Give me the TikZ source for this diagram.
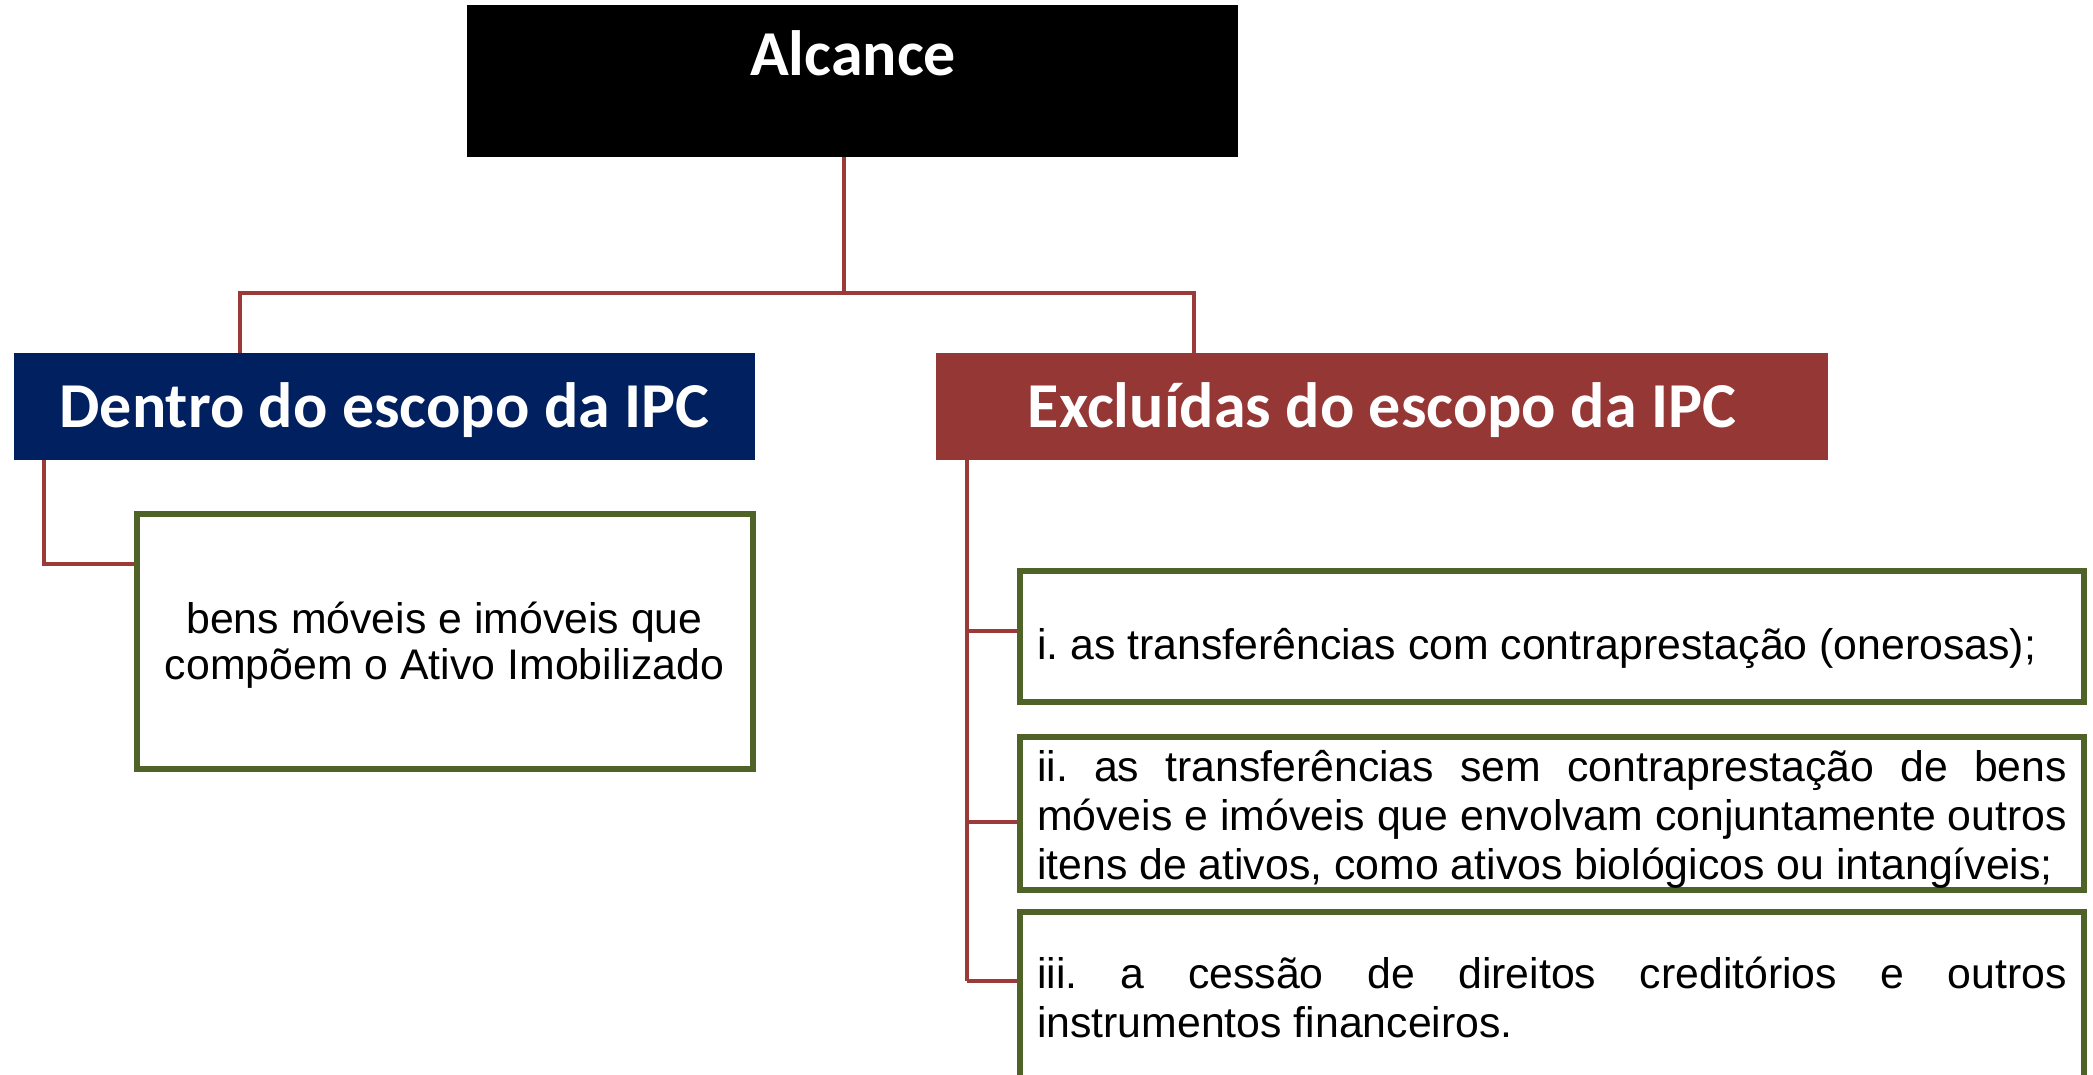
\documentclass[tikz,border=0pt]{standalone}
\usepackage{fontspec}
\setmainfont{Liberation Sans}
\newfontfamily\hdrfont{Carlito}
\definecolor{navyc}{HTML}{002060}
\definecolor{redc}{HTML}{953735}
\definecolor{linec}{HTML}{9B3B39}
\definecolor{greenc}{HTML}{4F6228}
\tikzset{
  hdr/.style={rectangle, inner sep=0pt, text=white, font=\hdrfont\bfseries\fontsize{64}{70}\selectfont, text height=41pt, text depth=0pt},
  conn/.style={draw=linec, line width=4pt},
  itembox/.style={rectangle, draw=greenc, line width=6pt, fill=white, inner xsep=17pt, inner ysep=0pt,
    text width=1030pt, align=justify, minimum width=1064pt,
    font=\fontsize{42.8}{49}\selectfont},
}
\begin{document}
\hyphenpenalty=10000
\frenchspacing
\begin{tikzpicture}[x=1pt,y=-1pt]
\useasboundingbox (0,0) rectangle (2093,1074);
% top box
\node[rectangle, fill=black, minimum width=771pt, minimum height=152pt, inner sep=0pt] (alc) at (852.5,81) {};
\node[hdr, anchor=base, text height=, text depth=] (alct) at (853,75) {Alcance};
% headers
\node[hdr, fill=navyc, minimum width=741pt, minimum height=107pt] (dentro) at (384.5,406.5) {Dentro do escopo da IPC};
\node[hdr, fill=redc, minimum width=892pt, minimum height=107pt] (excl) at (1382,406.5) {Excluídas do escopo da IPC};
% left content
\node[rectangle, draw=greenc, line width=6pt, fill=white, minimum width=616pt, minimum height=255pt, inner sep=0pt,
  align=center, font=\fontsize{42.8}{46.7}\selectfont] (bens) at (444.5,641) {\rule{0pt}{40pt}bens móveis e imóveis que\\compõem o Ativo Imobilizado};
% right content
\node[itembox, minimum height=131pt] (b1) at (1552,636.5) {\frenchspacing\hyphenpenalty=10000 \rule{0pt}{55pt}i. as transferências com contraprestação (onerosas);};
\node[itembox, minimum height=153pt, text height=40pt, text depth=104pt] (b2) at (1552,813) {\frenchspacing\hyphenpenalty=10000 ii. as transferências sem contraprestação de bens\linebreak[4] móveis e imóveis que envolvam conjuntamente outros\linebreak[4] itens de ativos, como ativos biológicos ou intangíveis;};
\node[itembox, minimum height=170pt] (b3) at (1552,997) {\frenchspacing\hyphenpenalty=10000 iii. a cessão de direitos creditórios e outros\linebreak[4] instrumentos financeiros.};
% connectors
\coordinate (hub) at (844,293);
\coordinate (L) at (240,293);
\coordinate (R) at (1194,293);
\draw[conn] (alc.south -| hub) -- (hub);
\draw[conn, line cap=rect] (L) -- (R);
\draw[conn] (L) -- (L |- dentro.north);
\draw[conn] (R) -- (R |- excl.north);
\coordinate (lj) at (44,564);
\draw[conn] (lj |- dentro.south) -- (lj) -- (lj -| bens.west);
\coordinate (r1) at (967,631);
\coordinate (r2) at (967,822);
\coordinate (r3) at (967,981);
\draw[conn] (r1 |- excl.south) -- (r3);
\draw[conn] (r1) -- (r1 -| b1.west);
\draw[conn] (r2) -- (r2 -| b2.west);
\draw[conn] (r3) -- (r3 -| b3.west);
\end{tikzpicture}
\end{document}
